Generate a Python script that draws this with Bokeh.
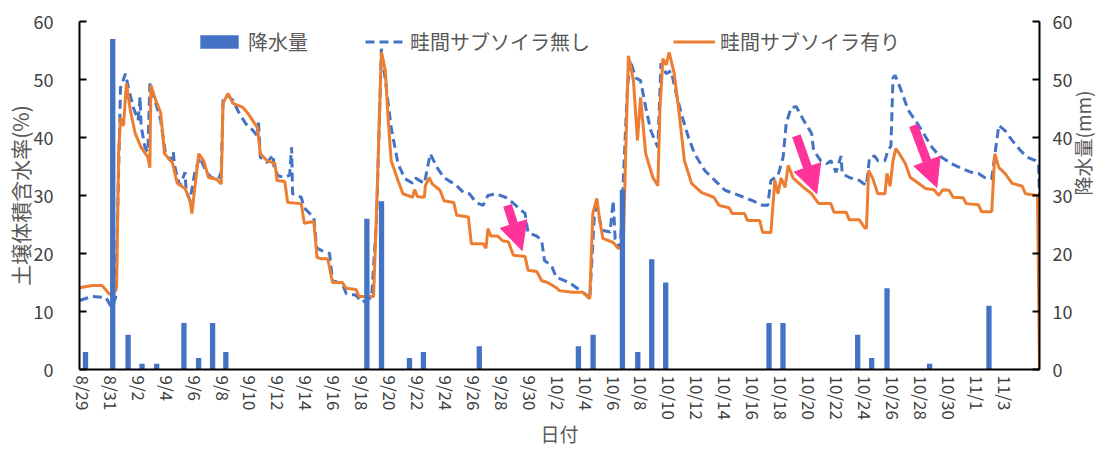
import math
from bokeh.plotting import figure
from bokeh.models import (Range1d, LinearAxis, FixedTicker, Legend, LegendItem,
                          Arrow, NormalHead)
from bokeh.embed import file_html
from bokeh.resources import INLINE

# ---------------- data ----------------
# x = days since 8/29
tick_days = list(range(0, 67, 2))
tick_labels = ["8/29", "8/31", "9/2", "9/4", "9/6", "9/8", "9/10", "9/12", "9/14",
               "9/16", "9/18", "9/20", "9/22", "9/24", "9/26", "9/28", "9/30",
               "10/2", "10/4", "10/6", "10/8", "10/10", "10/12", "10/14", "10/16",
               "10/18", "10/20", "10/22", "10/24", "10/26", "10/28", "10/30",
               "11/1", "11/3"]

rain_day = [0.15, 2.1, 3.2, 4.2, 5.25, 7.2, 8.25, 9.25, 10.2, 20.3, 21.35, 23.35,
            24.35, 28.35, 35.45, 36.5, 38.6, 39.7, 40.7, 41.7, 49.1, 50.1, 55.45,
            56.45, 57.55, 60.6, 64.85]
rain_mm = [3.0, 57.0, 6.0, 1.0, 1.0, 8.0, 2.0, 8.0, 3.0, 26.0, 29.0, 2.0,
           3.0, 4.0, 4.0, 6.0, 31.0, 3.0, 19.0, 15.0, 8.0, 8.0, 6.0,
           2.0, 14.0, 1.0, 11.0]

# 畦間サブソイラ無し (dashed blue)
no_day = [-0.28, 0.63, 1.61, 2.03, 2.31, 2.66, 3.01, 3.22, 3.57, 3.92, 4.06, 4.13,
          4.41, 4.62, 4.76, 5.18, 5.53, 5.88, 6.23, 6.44, 6.51, 6.72, 6.93, 7.28,
          7.35, 7.63, 7.98, 8.33, 8.82, 9.17, 9.66, 9.87, 10.0, 10.36, 10.71, 11.13,
          11.62, 12.11, 12.46, 12.53, 12.67, 13.16, 13.58, 13.65, 13.93, 14.42, 14.77,
          14.91, 14.98, 15.6, 15.8, 16.5, 16.7, 17.07, 17.63, 17.84, 18.54, 18.82,
          19.52, 19.94, 20.64, 20.99, 21.34, 21.69, 22.04, 22.53, 23.02, 23.58, 23.79,
          24.42, 24.84, 25.33, 25.82, 26.73, 27.22, 27.64, 28.13, 28.62, 28.97, 29.53,
          30.23, 30.72, 31.14, 31.63, 31.84, 32.47, 32.82, 33.02, 33.52, 33.86, 34.07,
          34.8, 35.31, 36.04, 36.26, 36.62, 36.84, 37.13, 37.72, 37.94, 38.08, 38.45,
          38.96, 39.17, 39.54, 39.9, 40.27, 40.63, 41.14, 41.36, 41.73, 42.09, 42.45,
          42.82, 43.33, 43.77, 44.5, 45.22, 45.95, 46.97, 47.92, 48.65, 49.01, 49.23,
          49.74, 50.11, 50.33, 50.69, 51.06, 51.57, 52.15, 52.29, 52.8, 53.24, 53.53,
          53.9, 54.26, 54.34, 54.85, 55.57, 56.08, 56.3, 56.67, 56.89, 57.4, 57.62,
          57.83, 57.98, 58.13, 58.49, 59.07, 59.73, 60.17, 60.68, 61.26, 62.13, 62.86,
          63.59, 64.1, 64.54, 65.05, 65.27, 65.56, 66.0, 66.51, 67.09, 67.6, 68.18,
          68.4, 68.47]
no_val = [11.9, 12.6, 12.4, 10.7, 12.4, 48.6, 51.0, 48.6, 45.2, 43.0, 47.0, 42.0,
          38.3, 37.5, 49.3, 45.9, 43.0, 37.2, 36.0, 37.5, 35.5, 33.1, 31.7, 34.0,
          31.0, 29.1, 34.0, 36.6, 34.0, 33.1, 32.8, 34.0, 46.4, 47.2, 46.4, 44.3,
          42.4, 41.3, 40.3, 43.0, 36.6, 35.7, 37.0, 35.0, 33.4, 33.1, 33.5,
          38.3, 30.3, 29.7, 27.9, 26.2, 21.0, 20.5, 20.0, 15.3, 14.8, 13.1,
          12.8, 11.6, 12.4, 25.7, 55.3, 48.6, 41.7, 35.5, 32.9, 32.1, 33.0,
          32.1, 37.2, 34.8, 33.1, 31.7, 30.5, 30.3, 28.8, 28.3, 30.0, 30.3,
          29.7, 28.8, 27.9, 26.9, 23.6, 23.0, 22.2, 18.8, 17.9, 15.9, 15.7,
          15.0, 14.1, 12.8, 12.1, 27.9, 27.4, 24.0, 23.7, 29.1, 22.5, 21.0,
          48.6, 53.3, 50.3, 49.8, 45.2, 41.2, 38.3, 52.8, 51.0, 51.5, 47.6,
          44.1, 40.0, 37.2, 34.3, 32.6, 30.9, 30.0, 29.1, 28.3, 28.3, 32.6,
          33.4, 36.6, 42.4, 45.2, 45.3, 43.0, 40.7, 37.8, 36.0, 35.5, 36.0,
          34.0, 36.8, 33.8, 33.1, 32.6, 31.7, 36.6, 36.8, 36.0, 36.0, 37.8,
          38.5, 50.3, 50.7, 48.6, 44.7, 42.4, 40.7, 38.6, 36.9, 35.5, 34.7,
          34.0, 33.8, 33.1, 32.9, 37.0, 42.1, 41.2, 39.5, 37.8, 36.6, 36.0,
          35.5, 30.0]

# 畦間サブソイラ有り (solid orange)
yes_day = [-0.28, 0.63, 1.33, 1.82, 2.17, 2.38, 2.52, 2.66, 2.87, 3.08, 3.36, 3.71,
           4.13, 4.62, 4.76, 4.83, 5.18, 5.53, 5.81, 6.37, 6.72, 7.28, 7.63, 7.77,
           7.98, 8.26, 8.61, 8.96, 9.52, 9.87, 10.0, 10.36, 10.71, 11.41, 11.83,
           12.46, 12.67, 13.16, 13.72, 13.86, 14.42, 14.63, 15.6, 15.82, 16.5, 16.73,
           17.07, 17.5, 17.84, 18.54, 18.82, 19.52, 19.73, 20.78, 20.99, 21.34, 21.62,
           21.83, 22.04, 22.53, 22.88, 23.58, 23.72, 23.93, 24.42, 24.49, 24.77, 24.98,
           25.54, 25.82, 26.52, 26.73, 27.57, 27.78, 28.62, 28.83, 28.97, 29.18, 29.67,
           30.02, 30.44, 30.79, 31.63, 31.84, 32.47, 32.82, 33.24, 33.93, 34.07, 35.02,
           35.75, 36.26, 36.48, 36.77, 36.99, 37.2, 37.94, 38.3, 38.66, 38.81, 39.03,
           39.39, 39.68, 39.9, 40.27, 40.78, 41.14, 41.29, 41.5, 41.73, 41.95, 42.31,
           42.67, 43.04, 43.55, 44.28, 45.15, 45.52, 46.24, 46.46, 47.34, 47.56, 48.43,
           48.65, 49.23, 49.52, 49.74, 49.96, 50.25, 50.47, 50.83, 51.57, 52.15, 52.66,
           53.53, 53.75, 54.63, 54.85, 55.57, 55.93, 56.08, 56.23, 56.52, 56.89, 57.4,
           57.55, 57.77, 57.98, 58.18, 58.49, 58.86, 59.22, 59.8, 60.31, 60.9, 61.26,
           61.55, 61.99, 62.28, 63.01, 63.22, 64.1, 64.32, 65.05, 65.27, 65.56, 66.0,
           66.51, 67.24, 67.46, 68.33, 68.47]
yes_val = [14.1, 14.5, 14.5, 13.1, 12.8, 14.3, 37.2, 43.4, 42.0, 49.3, 44.7, 40.7,
           38.3, 36.6, 34.8, 49.0, 46.4, 44.3, 37.2, 35.7, 32.1, 31.2, 29.1, 26.9,
           31.4, 37.2, 36.0, 33.1, 32.8, 32.0, 45.9, 47.6, 45.9, 45.2, 44.0,
           41.7, 37.2, 36.0, 35.5, 32.6, 32.4, 28.8, 28.6, 25.2, 25.5, 19.3,
           19.1, 19.1, 15.0, 15.0, 14.0, 13.8, 12.6, 12.6, 27.0, 54.7, 51.6,
           42.9, 36.0, 32.6, 30.3, 29.7, 31.0, 29.8, 29.7, 31.7, 33.1, 32.0,
           30.9, 29.1, 28.8, 26.6, 26.3, 21.7, 21.7, 20.9, 24.3, 23.0, 23.0,
           22.2, 22.0, 19.7, 19.5, 17.1, 16.9, 15.3, 15.0, 14.0, 13.6, 13.3,
           13.3, 12.2, 26.9, 29.5, 25.5, 22.6, 21.9, 20.9, 20.9, 35.0, 54.1,
           49.8, 39.5, 46.9, 37.2, 33.1, 31.7, 45.0, 53.6, 52.5, 54.7, 51.0,
           44.1, 36.0, 32.1, 30.5, 29.7, 28.3, 27.9, 26.9, 26.9, 25.7, 25.7,
           23.6, 23.6, 32.6, 30.3, 33.0, 31.4, 35.2, 33.0, 31.4, 30.3, 28.6,
           28.6, 27.1, 27.1, 25.8, 25.8, 24.5, 24.3, 34.3, 33.0, 30.3, 30.3,
           33.8, 31.6, 36.0, 38.1, 37.0, 35.5, 33.1, 32.1, 31.2, 31.0, 30.0,
           31.0, 30.9, 29.7, 29.6, 28.6, 28.4, 27.2, 27.2, 37.2, 34.8, 33.8,
           32.1, 31.6, 30.3, 30.0, 0.0]

# annotation arrows: (x_start, y_start, x_end, y_end)
arrows = [(30.37, 28.3, 31.42, 20.5),
          (51.06, 40.3, 52.52, 30.3),
          (59.44, 42.1, 61.12, 31.4)]

# ---------------- style ----------------
FONT = "Noto Sans CJK JP"
BLUE = "#4472C4"
ORANGE = "#ED7D31"
PINK = "#FF3399"
GRAY = "#595959"
TICK = "#404040"

p = figure(width=1112, height=450, output_backend="svg", toolbar_location=None,
           x_range=Range1d(-0.28, 68.47), y_range=Range1d(0, 60),
           min_border_left=79, min_border_right=70, min_border_top=21,
           min_border_bottom=81)
p.outline_line_color = None
p.xgrid.visible = False
p.ygrid.visible = False
p.background_fill_color = "white"
p.border_fill_color = "white"

p.extra_y_ranges = {"rain": Range1d(0, 60)}

r_no = p.line(no_day, no_val, line_color=BLUE, line_width=3, line_dash="9 5")
r_yes = p.line(yes_day, yes_val, line_color=ORANGE, line_width=3)
r_rain = p.vbar(x=rain_day, top=rain_mm, width=0.38, bottom=0, y_range_name="rain",
                fill_color=BLUE, line_color=None)

for xs, ys, xe, ye in arrows:
    p.add_layout(Arrow(end=NormalHead(size=28, fill_color=PINK, line_color=PINK),
                       x_start=xs, y_start=ys, x_end=xe, y_end=ye,
                       line_color=PINK, line_width=9))

# x axis
xa = p.xaxis[0]
xa.ticker = FixedTicker(ticks=tick_days)
xa.major_label_overrides = {d: l for d, l in zip(tick_days, tick_labels)}
xa.major_label_orientation = -math.pi / 2
xa.major_label_text_font = FONT
xa.major_label_text_font_size = "17px"
xa.major_label_text_color = TICK
xa.major_label_standoff = 6
xa.major_tick_in = 0
xa.major_tick_out = 0
xa.minor_tick_in = 0
xa.minor_tick_out = 0
xa.axis_line_color = "black"
xa.axis_line_width = 2
xa.axis_label = "日付"
xa.axis_label_text_font = FONT
xa.axis_label_text_font_size = "19px"
xa.axis_label_text_font_style = "normal"
xa.axis_label_text_color = GRAY
xa.axis_label_standoff = -3

# left axis
ya = p.yaxis[0]
ya.ticker = FixedTicker(ticks=[0, 10, 20, 30, 40, 50, 60])
ya.major_label_text_font = FONT
ya.major_label_text_font_size = "18px"
ya.major_label_text_color = TICK
ya.major_label_standoff = 26
ya.major_tick_in = 7
ya.major_tick_out = 0
ya.minor_tick_in = 0
ya.minor_tick_out = 0
ya.major_tick_line_width = 2
ya.axis_line_color = "black"
ya.axis_line_width = 2
ya.axis_label = "土壌体積含水率(%)"
ya.axis_label_text_font = FONT
ya.axis_label_text_font_size = "21px"
ya.axis_label_text_font_style = "normal"
ya.axis_label_text_color = GRAY
ya.axis_label_standoff = -4

# right axis
ra = LinearAxis(y_range_name="rain", ticker=FixedTicker(ticks=[0, 10, 20, 30, 40, 50, 60]))
ra.major_label_text_font = FONT
ra.major_label_text_font_size = "18px"
ra.major_label_text_color = TICK
ra.major_label_standoff = 13
ra.major_tick_in = 7
ra.major_tick_out = 0
ra.minor_tick_in = 0
ra.minor_tick_out = 0
ra.major_tick_line_width = 2
ra.axis_line_color = "black"
ra.axis_line_width = 2
ra.axis_label = "降水量(mm)"
ra.axis_label_orientation = math.pi / 2
ra.axis_label_text_font = FONT
ra.axis_label_text_font_size = "19px"
ra.axis_label_text_font_style = "normal"
ra.axis_label_text_color = GRAY
ra.axis_label_standoff = 7
p.add_layout(ra, "right")

# legends (three separate single-item legends, laid out like the original)
def make_legend(label, rend, loc, gw):
    lg = Legend(items=[LegendItem(label=label, renderers=[rend])], location=loc,
                orientation="horizontal", padding=0, margin=0, spacing=0,
                glyph_width=gw, glyph_height=17, label_standoff=5,
                label_text_font=FONT, label_text_font_size="20px",
                label_text_color=GRAY, border_line_color=None,
                background_fill_alpha=0)
    p.add_layout(lg)

make_legend("降水量", r_rain, (116, 313), 48)
make_legend("畦間サブソイラ無し", r_no, (286, 313), 40)
make_legend("畦間サブソイラ有り", r_yes, (594, 313), 42)

open("out.html", "w").write(file_html(p, INLINE))
